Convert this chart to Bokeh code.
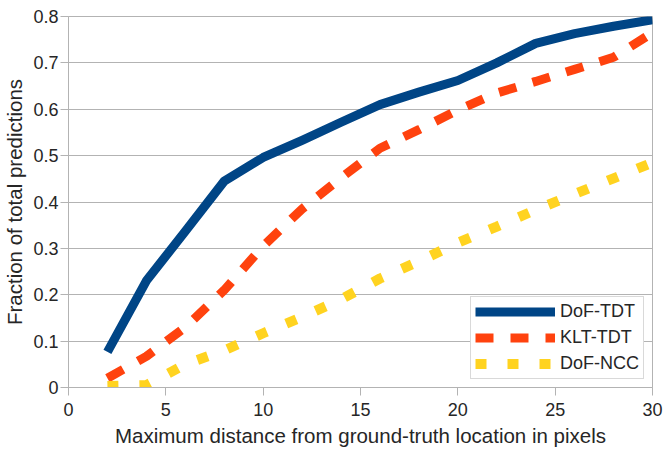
from bokeh.plotting import figure
from bokeh.models import FixedTicker, Legend, LegendItem
from bokeh.embed import file_html
from bokeh.resources import INLINE

# ---- data ----
distance = [2, 4, 6, 8, 10, 12, 14, 16, 18, 20, 22, 24, 26, 28, 30]
dof_tdt = [0.077, 0.23, 0.337, 0.445, 0.496, 0.533, 0.572, 0.61, 0.637, 0.662, 0.70, 0.742, 0.763, 0.779, 0.793]
klt_tdt = [0.02, 0.067, 0.13, 0.21, 0.305, 0.385, 0.452, 0.516, 0.556, 0.598, 0.635, 0.66, 0.686, 0.712, 0.765]
dof_ncc = [0.003, 0.005, 0.05, 0.08, 0.117, 0.152, 0.19, 0.235, 0.272, 0.312, 0.347, 0.383, 0.417, 0.451, 0.485]
series_names = ["DoF-TDT", "KLT-TDT", "DoF-NCC"]
x_ticks = [0, 5, 10, 15, 20, 25, 30]
y_ticks = [0, 0.1, 0.2, 0.3, 0.4, 0.5, 0.6, 0.7, 0.8]
y_tick_labels = ["0", "0.1", "0.2", "0.3", "0.4", "0.5", "0.6", "0.7", "0.8"]

FONT = "Liberation Sans"
TXT = "#262626"
GRID = "#b3b3b3"

p = figure(width=663, height=449, x_range=(0, 30), y_range=(0, 0.8),
           output_backend="svg", toolbar_location=None,
           min_border_left=67, min_border_right=11, min_border_top=16, min_border_bottom=62)

p.outline_line_color = GRID
p.xgrid.grid_line_color = None
p.ygrid.grid_line_color = GRID
p.ygrid.grid_line_width = 1

for ax in (p.xaxis[0], p.yaxis[0]):
    ax.axis_line_color = GRID
    ax.major_tick_line_color = GRID
    ax.minor_tick_line_color = None
    ax.major_tick_in = 0
    ax.major_tick_out = 8
    ax.major_label_text_font = FONT
    ax.major_label_text_font_size = "18px"
    ax.major_label_text_color = TXT
    ax.axis_label_text_font = FONT
    ax.axis_label_text_font_size = "20.5px"
    ax.axis_label_text_font_style = "normal"
    ax.axis_label_text_color = TXT

p.xaxis[0].ticker = FixedTicker(ticks=x_ticks)
p.yaxis[0].ticker = FixedTicker(ticks=y_ticks)
p.yaxis[0].major_label_overrides = {t: l for t, l in zip(y_ticks, y_tick_labels)}
p.xaxis[0].axis_label = "Maximum distance from ground-truth location in pixels"
p.yaxis[0].axis_label = "Fraction of total predictions"
p.xaxis[0].major_label_standoff = 7
p.yaxis[0].major_label_standoff = 2
p.xaxis[0].axis_label_standoff = 5
p.yaxis[0].axis_label_standoff = 4

r1 = p.line(distance, dof_tdt, line_color="#004586", line_width=9, line_join="round")
r2 = p.line(distance, klt_tdt, line_color="#ff420e", line_width=9, line_dash="18 17", line_cap="butt")
r3 = p.line(distance, dof_ncc, line_color="#ffd320", line_width=10, line_dash="11 21", line_cap="butt")

legend = Legend(items=[LegendItem(label=series_names[0], renderers=[r1]),
                       LegendItem(label=series_names[1], renderers=[r2]),
                       LegendItem(label=series_names[2], renderers=[r3])],
                location="bottom_right")
legend.margin = 8
legend.padding = 4
legend.spacing = 5
legend.glyph_width = 80
legend.glyph_height = 21
legend.label_standoff = 5
legend.label_text_font = FONT
legend.label_text_font_size = "18px"
legend.label_text_color = TXT
legend.border_line_color = GRID
legend.border_line_width = 1
legend.background_fill_color = "white"
legend.background_fill_alpha = 1
p.add_layout(legend)

open("out.html", "w").write(file_html(p, INLINE))
